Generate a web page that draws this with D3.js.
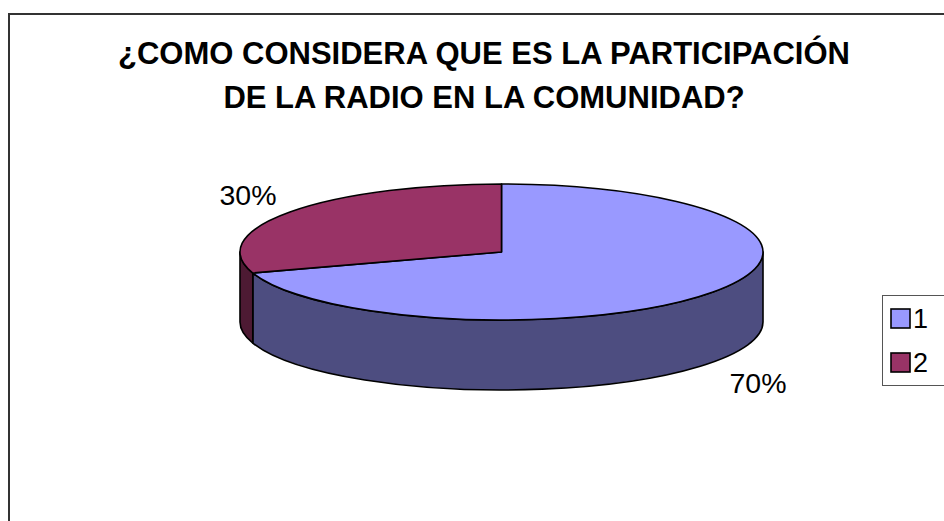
<!DOCTYPE html>
<html><head><meta charset="utf-8">
<script src="https://cdn.jsdelivr.net/npm/d3@7"></script>
<style>html,body{margin:0;padding:0;background:#fff;}svg{display:block;}</style>
</head><body>
<svg id="chart" width="944" height="521"></svg>
<script>
const titleLines = ["¿COMO CONSIDERA QUE ES LA PARTICIPACIÓN", "DE LA RADIO EN LA COMUNIDAD?"];
const categories = ["1", "2"];
const values = [70, 30];
const labels = ["70%", "30%"];
const topColors = ["#9999FF", "#993366"];
const sideColors = ["#4D4D80", "#4D1A33"];

const svg = d3.select("#chart");
const font = "'Liberation Sans', Arial, sans-serif";

// outer border
svg.append("rect").attr("x", 9).attr("y", 14).attr("width", 1000).attr("height", 600)
  .attr("fill", "#fff").attr("stroke", "#333").attr("stroke-width", 2);

// title
svg.append("text").attr("text-anchor", "middle").attr("font-family", font)
  .attr("font-weight", "bold").attr("font-size", 31).attr("fill", "#000")
  .selectAll("tspan").data(titleLines).join("tspan")
  .attr("x", 484).attr("y", (d, i) => 64 + i * 44).text(d => d);

// pie geometry
const cx = 501.5, cy = 252, rx = 261.5, ry = 68, depth = 70;
const pie = d3.pie().sort(null).startAngle(0).endAngle(2 * Math.PI);
const arcs = pie(values);
const pt = (a, dy = 0) => [cx + rx * Math.sin(a), cy - ry * Math.cos(a) + dy];
const g = svg.append("g");

// sides (visible front half: angles PI/2 .. 3PI/2)
arcs.forEach((d, i) => {
  const s0 = Math.max(d.startAngle, Math.PI / 2);
  const s1 = Math.min(d.endAngle, 3 * Math.PI / 2);
  if (s1 <= s0) return;
  const p0 = pt(s0), p1 = pt(s1), q1 = pt(s1, depth), q0 = pt(s0, depth);
  const path = `M${p0}A${rx},${ry} 0 0 1 ${p1}L${q1}A${rx},${ry} 0 0 0 ${q0}Z`;
  g.append("path").attr("d", path).attr("fill", sideColors[i])
    .attr("stroke", "#000").attr("stroke-width", 1.6).attr("stroke-linejoin", "round");
});

// tops
arcs.forEach((d, i) => {
  const p0 = pt(d.startAngle), p1 = pt(d.endAngle);
  const large = (d.endAngle - d.startAngle) > Math.PI ? 1 : 0;
  const path = `M${cx},${cy}L${p0}A${rx},${ry} 0 ${large} 1 ${p1}Z`;
  g.append("path").attr("d", path).attr("fill", topColors[i])
    .attr("stroke", "#000").attr("stroke-width", 1.6).attr("stroke-linejoin", "round");
});

// data labels
const labelPos = [[758, 393], [248, 205]];
labels.forEach((t, i) => {
  svg.append("text").attr("x", labelPos[i][0]).attr("y", labelPos[i][1])
    .attr("text-anchor", "middle").attr("font-family", font).attr("font-size", 28.5)
    .attr("fill", "#000").text(t);
});

// legend
const lg = svg.append("g");
lg.append("rect").attr("x", 882.5).attr("y", 295.5).attr("width", 100).attr("height", 90)
  .attr("fill", "#fff").attr("stroke", "#555").attr("stroke-width", 1);
categories.forEach((c, i) => {
  const y = 309 + i * 44;
  lg.append("rect").attr("x", 891).attr("y", y).attr("width", 19).attr("height", 19)
    .attr("fill", topColors[i]).attr("stroke", "#000").attr("stroke-width", 1.6);
  lg.append("text").attr("x", 913).attr("y", y + 19).attr("font-family", font)
    .attr("font-size", 27).attr("fill", "#000").text(c);
});
</script>
</body></html>
